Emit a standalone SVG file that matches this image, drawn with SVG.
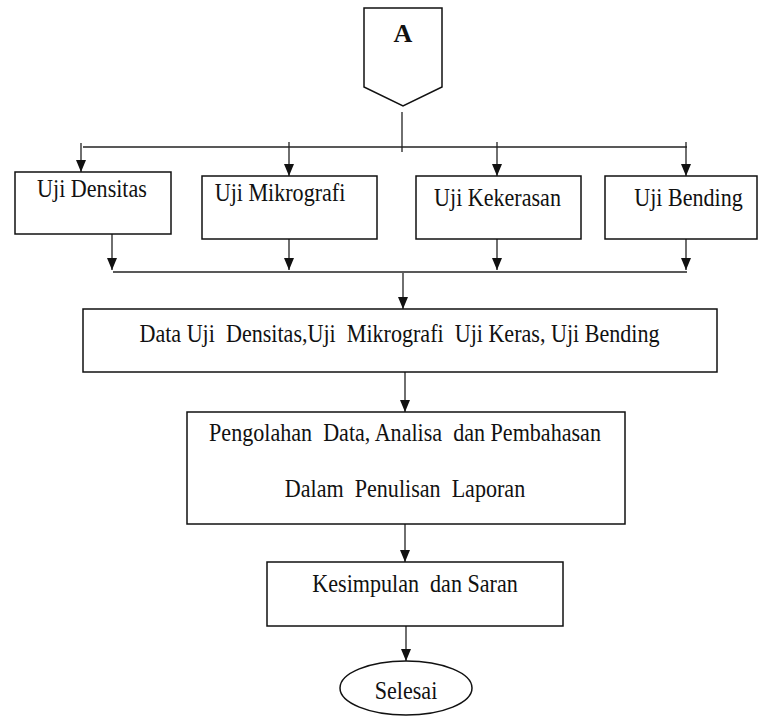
<svg xmlns="http://www.w3.org/2000/svg" width="762" height="719" viewBox="0 0 762 719">
<style>
.box{fill:#fff;stroke:#111;stroke-width:1.5}
.ln{fill:none;stroke:#222;stroke-width:1.3}
.t{font-family:'Liberation Serif','Times New Roman',serif;font-size:26px;fill:#111;text-anchor:middle}
</style>
<defs>
<marker id="ahv" viewBox="0 0 12 10" refX="12" refY="5" markerWidth="12" markerHeight="10" markerUnits="userSpaceOnUse" orient="auto">
<path d="M0,0 L12,5 L0,10 Z" fill="#111"/>
</marker>
</defs>
<rect width="762" height="719" fill="#fff"/>
<g id="connectors">
<line class="ln" x1="402" y1="112" x2="402" y2="152"/>
<line class="ln" x1="83" y1="147" x2="687" y2="147"/>
<line class="ln" x1="81" y1="143" x2="81" y2="172" marker-end="url(#ahv)"/>
<line class="ln" x1="289" y1="142" x2="289" y2="176" marker-end="url(#ahv)"/>
<line class="ln" x1="497" y1="142" x2="497" y2="176" marker-end="url(#ahv)"/>
<line class="ln" x1="686" y1="142" x2="686" y2="176" marker-end="url(#ahv)"/>
<line class="ln" x1="112" y1="234" x2="112" y2="270" marker-end="url(#ahv)"/>
<line class="ln" x1="289" y1="239" x2="289" y2="270" marker-end="url(#ahv)"/>
<line class="ln" x1="497" y1="239" x2="497" y2="270" marker-end="url(#ahv)"/>
<line class="ln" x1="686" y1="239" x2="686" y2="270" marker-end="url(#ahv)"/>
<line class="ln" x1="113" y1="272" x2="687" y2="272"/>
<line class="ln" x1="403" y1="273" x2="403" y2="309" marker-end="url(#ahv)"/>
<line class="ln" x1="405" y1="372" x2="405" y2="412" marker-end="url(#ahv)"/>
<line class="ln" x1="405" y1="524" x2="405" y2="562" marker-end="url(#ahv)"/>
<line class="ln" x1="406" y1="626" x2="406" y2="661" marker-end="url(#ahv)"/>
</g>
<g id="nodeA">
<polygon class="box" points="364,8 442,8 442,87 403,106 364,87"/>
<text class="t" x="403" y="42" font-weight="bold" style="font-size:26px">A</text>
</g>
<g id="ujiDensitas">
<rect class="box" x="15" y="172" width="156" height="62"/>
<text class="t" transform="translate(92,197) scale(0.85,1)">Uji Densitas</text>
</g>
<g id="ujiMikrografi">
<rect class="box" x="202" y="176" width="175" height="63"/>
<text class="t" transform="translate(280,201) scale(0.85,1)">Uji Mikrografi</text>
</g>
<g id="ujiKekerasan">
<rect class="box" x="416" y="176" width="165" height="63"/>
<text class="t" transform="translate(497.5,206) scale(0.85,1)">Uji Kekerasan</text>
</g>
<g id="ujiBending">
<rect class="box" x="605" y="176" width="152" height="63"/>
<text class="t" transform="translate(688.5,206) scale(0.85,1)">Uji Bending</text>
</g>
<g id="dataUji">
<rect class="box" x="83" y="309" width="634" height="63"/>
<text class="t" transform="translate(399.5,342) scale(0.85,1)" xml:space="preserve">Data Uji  Densitas,Uji  Mikrografi  Uji Keras, Uji Bending</text>
</g>
<g id="pengolahan">
<rect class="box" x="187" y="412" width="438" height="112"/>
<text class="t" transform="translate(405,441) scale(0.85,1)" xml:space="preserve">Pengolahan  Data, Analisa  dan Pembahasan</text>
<text class="t" transform="translate(405,497) scale(0.85,1)" xml:space="preserve">Dalam  Penulisan  Laporan</text>
</g>
<g id="kesimpulan">
<rect class="box" x="267" y="562" width="296" height="64"/>
<text class="t" transform="translate(415,592) scale(0.85,1)" xml:space="preserve">Kesimpulan  dan Saran</text>
</g>
<g id="selesai">
<ellipse class="box" cx="406" cy="688" rx="66" ry="27"/>
<text class="t" transform="translate(406,699) scale(0.85,1)">Selesai</text>
</g>
</svg>
